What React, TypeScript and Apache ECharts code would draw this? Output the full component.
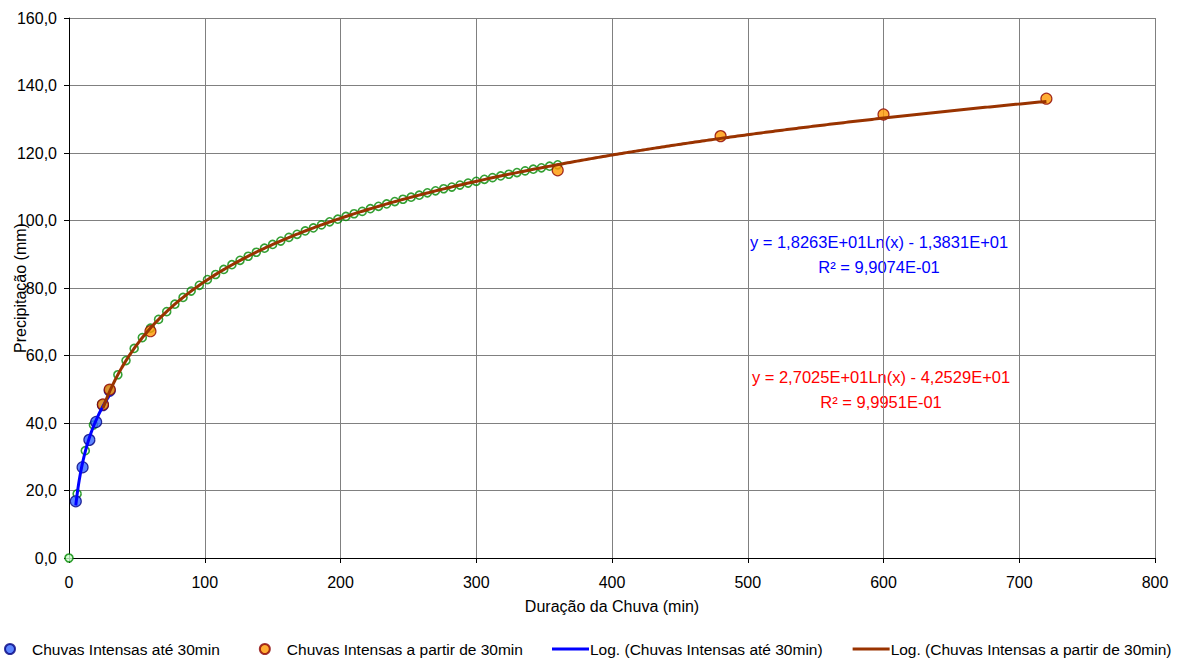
import React, { useEffect, useRef } from "react";
import * as echarts from "echarts";

// ---- data ----
const serieBlueName = "Chuvas Intensas até 30min";
const serieOrangeName = "Chuvas Intensas a partir de 30min";
const trendBlueName = "Log. (Chuvas Intensas até 30min)";
const trendBrownName = "Log. (Chuvas Intensas a partir de 30min)";

const blueX = [5, 10, 15, 20, 25, 30];
const blueY = [16.8, 26.9, 35.0, 40.3, 45.3, 49.6];

const orangeX = [25, 30, 60, 360, 480, 600, 720];
const orangeY = [45.5, 49.9, 67.2, 114.9, 125.0, 131.4, 136.1];

const greenX = [
  0, 6, 12, 18, 24, 30, 36, 42, 48, 54, 60, 66, 72, 78, 84, 90, 96, 102, 108, 114,
  120, 126, 132, 138, 144, 150, 156, 162, 168, 174, 180, 186, 192, 198, 204, 210,
  216, 222, 228, 234, 240, 246, 252, 258, 264, 270, 276, 282, 288, 294, 300, 306,
  312, 318, 324, 330, 336, 342, 348, 354, 360,
];
const greenY = [
  0.0, 19.0, 31.8, 39.4, 45.6, 49.9, 54.3, 58.5, 62.1, 65.3, 68.1, 70.7, 73.0, 75.2,
  77.2, 79.1, 80.8, 82.5, 84.0, 85.5, 86.9, 88.2, 89.4, 90.6, 91.8, 92.9, 93.9, 95.0,
  95.9, 96.9, 97.8, 98.7, 99.6, 100.4, 101.2, 102.0, 102.7, 103.5, 104.2, 104.9,
  105.6, 106.3, 106.9, 107.5, 108.2, 108.8, 109.4, 109.9, 110.5, 111.1, 111.6, 112.2,
  112.7, 113.2, 113.7, 114.2, 114.7, 115.2, 115.6, 116.1, 116.5,
];

// Trendline coefficients, as printed on the chart: y = a*Ln(x) + b
const blueFit = { a: 18.263, b: -13.831, from: 5, to: 30 };
const brownFit = { a: 27.025, b: -42.529, from: 25, to: 720 };

const blueEq = ["y = 1,8263E+01Ln(x) - 1,3831E+01", "R² = 9,9074E-01"];
const redEq = ["y = 2,7025E+01Ln(x) - 4,2529E+01", "R² = 9,9951E-01"];

const xAxisTitle = "Duração da Chuva (min)";
const yAxisTitle = "Precipitação (mm)";

const FONT = "'Liberation Sans', Arial, sans-serif";

function trend(fit: { a: number; b: number; from: number; to: number }, steps: number) {
  const pts: number[][] = [];
  for (let i = 0; i <= steps; i++) {
    const x = fit.from + ((fit.to - fit.from) * i) / steps;
    pts.push([x, fit.a * Math.log(x) + fit.b]);
  }
  return pts;
}

export default function App() {
  const ref = useRef<HTMLDivElement>(null);
  useEffect(() => {
    if (!ref.current) return;
    const chart = echarts.init(ref.current, undefined, { renderer: "svg" });
    const zip = (xs: number[], ys: number[]) => xs.map((x, i) => [x, ys[i]]);
    const greenData = zip(greenX, greenY).map((p, i) =>
      i === 0 ? { value: p, itemStyle: { color: "#ccffcc" } } : { value: p }
    );
    const eqText = (x: number, y: number, text: string, fill: string) => ({
      type: "text",
      x,
      y,
      style: { text, fill, font: `16.5px ${FONT}`, align: "center", verticalAlign: "middle" },
    });
    chart.setOption({
      animation: false,
      backgroundColor: "#ffffff",
      textStyle: { fontFamily: FONT },
      grid: { left: 69, right: 28, top: 18, bottom: 101, containLabel: false, outerBoundsMode: "none" },
      xAxis: {
        type: "value",
        min: 0,
        max: 800,
        interval: 100,
        name: xAxisTitle,
        nameLocation: "middle",
        nameGap: 40,
        nameTextStyle: { fontSize: 16, color: "#000", fontFamily: FONT },
        axisLine: { show: true, onZero: false, lineStyle: { color: "#000", width: 1 } },
        axisTick: { show: true, length: 5, lineStyle: { color: "#000" } },
        axisLabel: { fontSize: 16, color: "#000", margin: 16, fontFamily: FONT },
        splitLine: { show: true, lineStyle: { color: "#808080", width: 1 } },
      },
      yAxis: {
        type: "value",
        min: 0,
        max: 160,
        interval: 20,
        name: yAxisTitle,
        nameLocation: "middle",
        nameGap: 41,
        nameMoveOverlap: false,
        nameTextStyle: { fontSize: 16, color: "#000", fontFamily: FONT },
        axisLine: { show: true, onZero: false, lineStyle: { color: "#000", width: 1 } },
        axisTick: { show: true, length: 5, lineStyle: { color: "#000" } },
        axisLabel: {
          fontSize: 16,
          color: "#000",
          margin: 12,
          fontFamily: FONT,
          formatter: (v: number) => v.toFixed(1).replace(".", ","),
        },
        splitLine: { show: true, lineStyle: { color: "#808080", width: 1 } },
      },
      legend: [
        {
          data: [serieBlueName, serieOrangeName],
          icon: "circle",
          itemWidth: 20,
          itemHeight: 10,
          itemGap: 39,
          left: 4,
          top: 641,
          padding: 0,
          textStyle: { fontSize: 15.5, color: "#000", fontFamily: FONT, padding: [0, 0, 0, 7] },
        },
        {
          data: [trendBlueName, trendBrownName],
          icon: "rect",
          itemWidth: 37,
          itemHeight: 3,
          itemGap: 30,
          left: 552,
          top: 641,
          padding: 0,
          textStyle: { fontSize: 15.5, color: "#000", fontFamily: FONT, padding: [0, 0, 0, -4] },
        },
      ],
      series: [
        {
          name: "Série 3",
          type: "scatter",
          data: greenData,
          symbol: "circle",
          symbolSize: 8,
          itemStyle: { color: "rgba(255,255,255,0)", borderColor: "#008800", borderWidth: 1.6 },
          z: 2,
        },
        {
          name: serieBlueName,
          type: "scatter",
          data: zip(blueX, blueY),
          symbol: "circle",
          symbolSize: 11,
          itemStyle: { color: "#3366ff", borderColor: "#000080", borderWidth: 1.2 },
          z: 3,
        },
        {
          name: serieOrangeName,
          type: "scatter",
          data: zip(orangeX, orangeY),
          symbol: "circle",
          symbolSize: 11,
          itemStyle: { color: "#ff9900", borderColor: "#8b0000", borderWidth: 1.2 },
          z: 3,
        },
        {
          name: trendBlueName,
          type: "line",
          data: trend(blueFit, 60),
          showSymbol: false,
          symbol: "none",
          lineStyle: { color: "#0000ff", width: 3 },
          itemStyle: { color: "#0000ff" },
          z: 4,
        },
        {
          name: trendBrownName,
          type: "line",
          data: trend(brownFit, 400),
          showSymbol: false,
          symbol: "none",
          lineStyle: { color: "#993300", width: 3 },
          itemStyle: { color: "#993300" },
          z: 4,
        },
      ],
      graphic: [
        eqText(879, 242, blueEq[0], "#0000ff"),
        eqText(879, 267, blueEq[1], "#0000ff"),
        eqText(881, 377, redEq[0], "#ff0000"),
        eqText(881, 402, redEq[1], "#ff0000"),
      ],
    });
    return () => chart.dispose();
  }, []);
  return (
    <div
      ref={ref}
      style={{ position: "fixed", left: 0, top: 0, width: 1183, height: 659, background: "#fff" }}
    />
  );
}
